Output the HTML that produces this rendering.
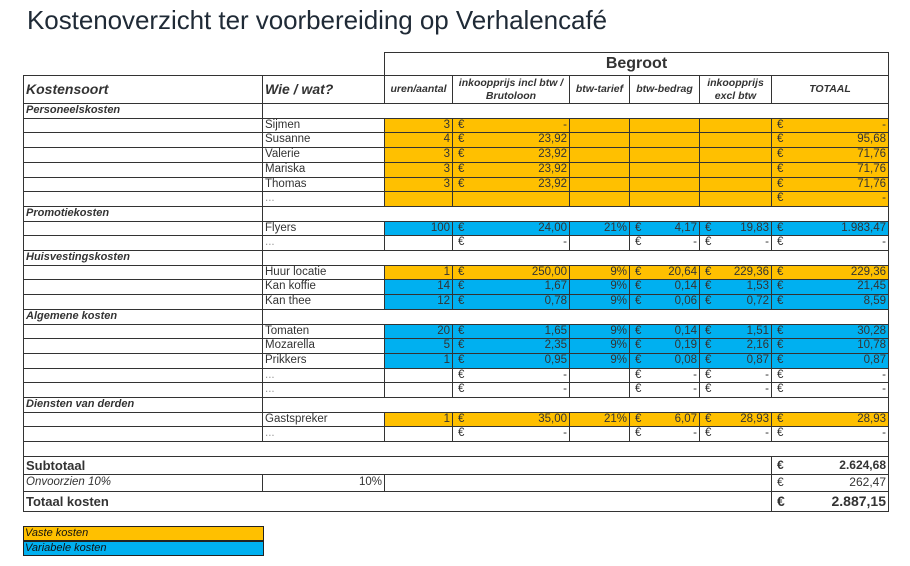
<!DOCTYPE html>
<html><head><meta charset="utf-8"><style>
body{margin:0;width:910px;height:566px;background:#fff;position:relative;overflow:hidden;font-family:"Liberation Sans",Arial,sans-serif;color:#333}
.title{position:absolute;left:27px;top:5px;font-size:26px;color:#1f2a36;white-space:nowrap;letter-spacing:-0.05px}
table{position:absolute;left:23px;top:52px;border-collapse:collapse;table-layout:fixed;font-size:11.5px}
td{border:1px solid #333;padding:0 2px;height:13.7px;line-height:13.7px;overflow:hidden;white-space:nowrap}
td.n{border:none}
.o{background:#FFC000}.b{background:#00B0F0}
.r{text-align:right}
.e{display:flex;justify-content:space-between}
.e span:first-child{padding-left:3px}
.h td{font-weight:bold;font-style:italic;text-align:center;line-height:13px;height:27px;white-space:normal;font-size:10.5px}
.cat{font-weight:bold;font-style:italic;font-size:11px}
.dots{color:#999}
.leg{position:absolute;left:23px;width:238px;border:1px solid #222;font-size:11px;font-style:italic;color:#111;height:13px;line-height:13px;padding-left:1px}
</style></head><body>
<div class="title">Kostenoverzicht ter voorbereiding op Verhalencafé</div>
<table>
<colgroup><col style="width:239px"><col style="width:122px"><col style="width:68px"><col style="width:117px"><col style="width:60px"><col style="width:70px"><col style="width:72px"><col style="width:117px"></colgroup>
<tr><td class="n" colspan="2" style="height:22px"></td><td colspan="6" style="text-align:center;font-weight:bold;font-size:16px;height:22px">Begroot</td></tr>
<tr class="h"><td style="text-align:left;font-size:14px">Kostensoort</td><td style="text-align:left;font-size:14px">Wie / wat?</td><td>uren/aantal</td><td>inkoopprijs incl btw / Brutoloon</td><td>btw-tarief</td><td>btw-bedrag</td><td>inkoopprijs excl btw</td><td>TOTAAL</td></tr>
<tr><td class="cat">Personeelskosten</td><td colspan="7"></td></tr>
<tr><td></td><td>Sijmen</td><td class="o r">3</td><td class="o"><div class="e"><span>€</span><span>-</span></div></td><td class="o"></td><td class="o"></td><td class="o"></td><td class="o"><div class="e"><span>€</span><span>-</span></div></td></tr>
<tr><td></td><td>Susanne</td><td class="o r">4</td><td class="o"><div class="e"><span>€</span><span>23,92</span></div></td><td class="o"></td><td class="o"></td><td class="o"></td><td class="o"><div class="e"><span>€</span><span>95,68</span></div></td></tr>
<tr><td></td><td>Valerie</td><td class="o r">3</td><td class="o"><div class="e"><span>€</span><span>23,92</span></div></td><td class="o"></td><td class="o"></td><td class="o"></td><td class="o"><div class="e"><span>€</span><span>71,76</span></div></td></tr>
<tr><td></td><td>Mariska</td><td class="o r">3</td><td class="o"><div class="e"><span>€</span><span>23,92</span></div></td><td class="o"></td><td class="o"></td><td class="o"></td><td class="o"><div class="e"><span>€</span><span>71,76</span></div></td></tr>
<tr><td></td><td>Thomas</td><td class="o r">3</td><td class="o"><div class="e"><span>€</span><span>23,92</span></div></td><td class="o"></td><td class="o"></td><td class="o"></td><td class="o"><div class="e"><span>€</span><span>71,76</span></div></td></tr>
<tr><td></td><td class="dots">...</td><td class="o"></td><td class="o"></td><td class="o"></td><td class="o"></td><td class="o"></td><td class="o"><div class="e"><span>€</span><span>-</span></div></td></tr>
<tr><td class="cat">Promotiekosten</td><td colspan="7"></td></tr>
<tr><td></td><td>Flyers</td><td class="b r">100</td><td class="b"><div class="e"><span>€</span><span>24,00</span></div></td><td class="b r">21%</td><td class="b"><div class="e"><span>€</span><span>4,17</span></div></td><td class="b"><div class="e"><span>€</span><span>19,83</span></div></td><td class="b"><div class="e"><span>€</span><span>1.983,47</span></div></td></tr>
<tr><td></td><td class="dots">...</td><td></td><td><div class="e"><span>€</span><span>-</span></div></td><td></td><td><div class="e"><span>€</span><span>-</span></div></td><td><div class="e"><span>€</span><span>-</span></div></td><td><div class="e"><span>€</span><span>-</span></div></td></tr>
<tr><td class="cat">Huisvestingskosten</td><td colspan="7"></td></tr>
<tr><td></td><td>Huur locatie</td><td class="o r">1</td><td class="o"><div class="e"><span>€</span><span>250,00</span></div></td><td class="o r">9%</td><td class="o"><div class="e"><span>€</span><span>20,64</span></div></td><td class="o"><div class="e"><span>€</span><span>229,36</span></div></td><td class="o"><div class="e"><span>€</span><span>229,36</span></div></td></tr>
<tr><td></td><td>Kan koffie</td><td class="b r">14</td><td class="b"><div class="e"><span>€</span><span>1,67</span></div></td><td class="b r">9%</td><td class="b"><div class="e"><span>€</span><span>0,14</span></div></td><td class="b"><div class="e"><span>€</span><span>1,53</span></div></td><td class="b"><div class="e"><span>€</span><span>21,45</span></div></td></tr>
<tr><td></td><td>Kan thee</td><td class="b r">12</td><td class="b"><div class="e"><span>€</span><span>0,78</span></div></td><td class="b r">9%</td><td class="b"><div class="e"><span>€</span><span>0,06</span></div></td><td class="b"><div class="e"><span>€</span><span>0,72</span></div></td><td class="b"><div class="e"><span>€</span><span>8,59</span></div></td></tr>
<tr><td class="cat">Algemene kosten</td><td colspan="7"></td></tr>
<tr><td></td><td>Tomaten</td><td class="b r">20</td><td class="b"><div class="e"><span>€</span><span>1,65</span></div></td><td class="b r">9%</td><td class="b"><div class="e"><span>€</span><span>0,14</span></div></td><td class="b"><div class="e"><span>€</span><span>1,51</span></div></td><td class="b"><div class="e"><span>€</span><span>30,28</span></div></td></tr>
<tr><td></td><td>Mozarella</td><td class="b r">5</td><td class="b"><div class="e"><span>€</span><span>2,35</span></div></td><td class="b r">9%</td><td class="b"><div class="e"><span>€</span><span>0,19</span></div></td><td class="b"><div class="e"><span>€</span><span>2,16</span></div></td><td class="b"><div class="e"><span>€</span><span>10,78</span></div></td></tr>
<tr><td></td><td>Prikkers</td><td class="b r">1</td><td class="b"><div class="e"><span>€</span><span>0,95</span></div></td><td class="b r">9%</td><td class="b"><div class="e"><span>€</span><span>0,08</span></div></td><td class="b"><div class="e"><span>€</span><span>0,87</span></div></td><td class="b"><div class="e"><span>€</span><span>0,87</span></div></td></tr>
<tr><td></td><td class="dots">...</td><td></td><td><div class="e"><span>€</span><span>-</span></div></td><td></td><td><div class="e"><span>€</span><span>-</span></div></td><td><div class="e"><span>€</span><span>-</span></div></td><td><div class="e"><span>€</span><span>-</span></div></td></tr>
<tr><td></td><td class="dots">...</td><td></td><td><div class="e"><span>€</span><span>-</span></div></td><td></td><td><div class="e"><span>€</span><span>-</span></div></td><td><div class="e"><span>€</span><span>-</span></div></td><td><div class="e"><span>€</span><span>-</span></div></td></tr>
<tr><td class="cat">Diensten van derden</td><td colspan="7"></td></tr>
<tr><td></td><td>Gastspreker</td><td class="o r">1</td><td class="o"><div class="e"><span>€</span><span>35,00</span></div></td><td class="o r">21%</td><td class="o"><div class="e"><span>€</span><span>6,07</span></div></td><td class="o"><div class="e"><span>€</span><span>28,93</span></div></td><td class="o"><div class="e"><span>€</span><span>28,93</span></div></td></tr>
<tr><td></td><td class="dots">...</td><td></td><td><div class="e"><span>€</span><span>-</span></div></td><td></td><td><div class="e"><span>€</span><span>-</span></div></td><td><div class="e"><span>€</span><span>-</span></div></td><td><div class="e"><span>€</span><span>-</span></div></td></tr>
<tr><td colspan="8"></td></tr>
<tr><td colspan="7" style="font-weight:bold;font-size:13px;height:17px">Subtotaal</td><td style="font-weight:bold;font-size:12px"><div class="e"><span>€</span><span>2.624,68</span></div></td></tr>
<tr><td style="font-style:italic;height:16px">Onvoorzien 10%</td><td class="r">10%</td><td colspan="5"></td><td style="font-size:12px"><div class="e"><span>€</span><span>262,47</span></div></td></tr>
<tr><td colspan="7" style="font-weight:bold;font-size:13px;height:19px">Totaal kosten</td><td style="font-weight:bold;font-size:14px"><div class="e"><span>€</span><span>2.887,15</span></div></td></tr>
</table>
<div class="leg o" style="top:526px">Vaste kosten</div>
<div class="leg b" style="top:541px">Variabele kosten</div>
</body></html>
